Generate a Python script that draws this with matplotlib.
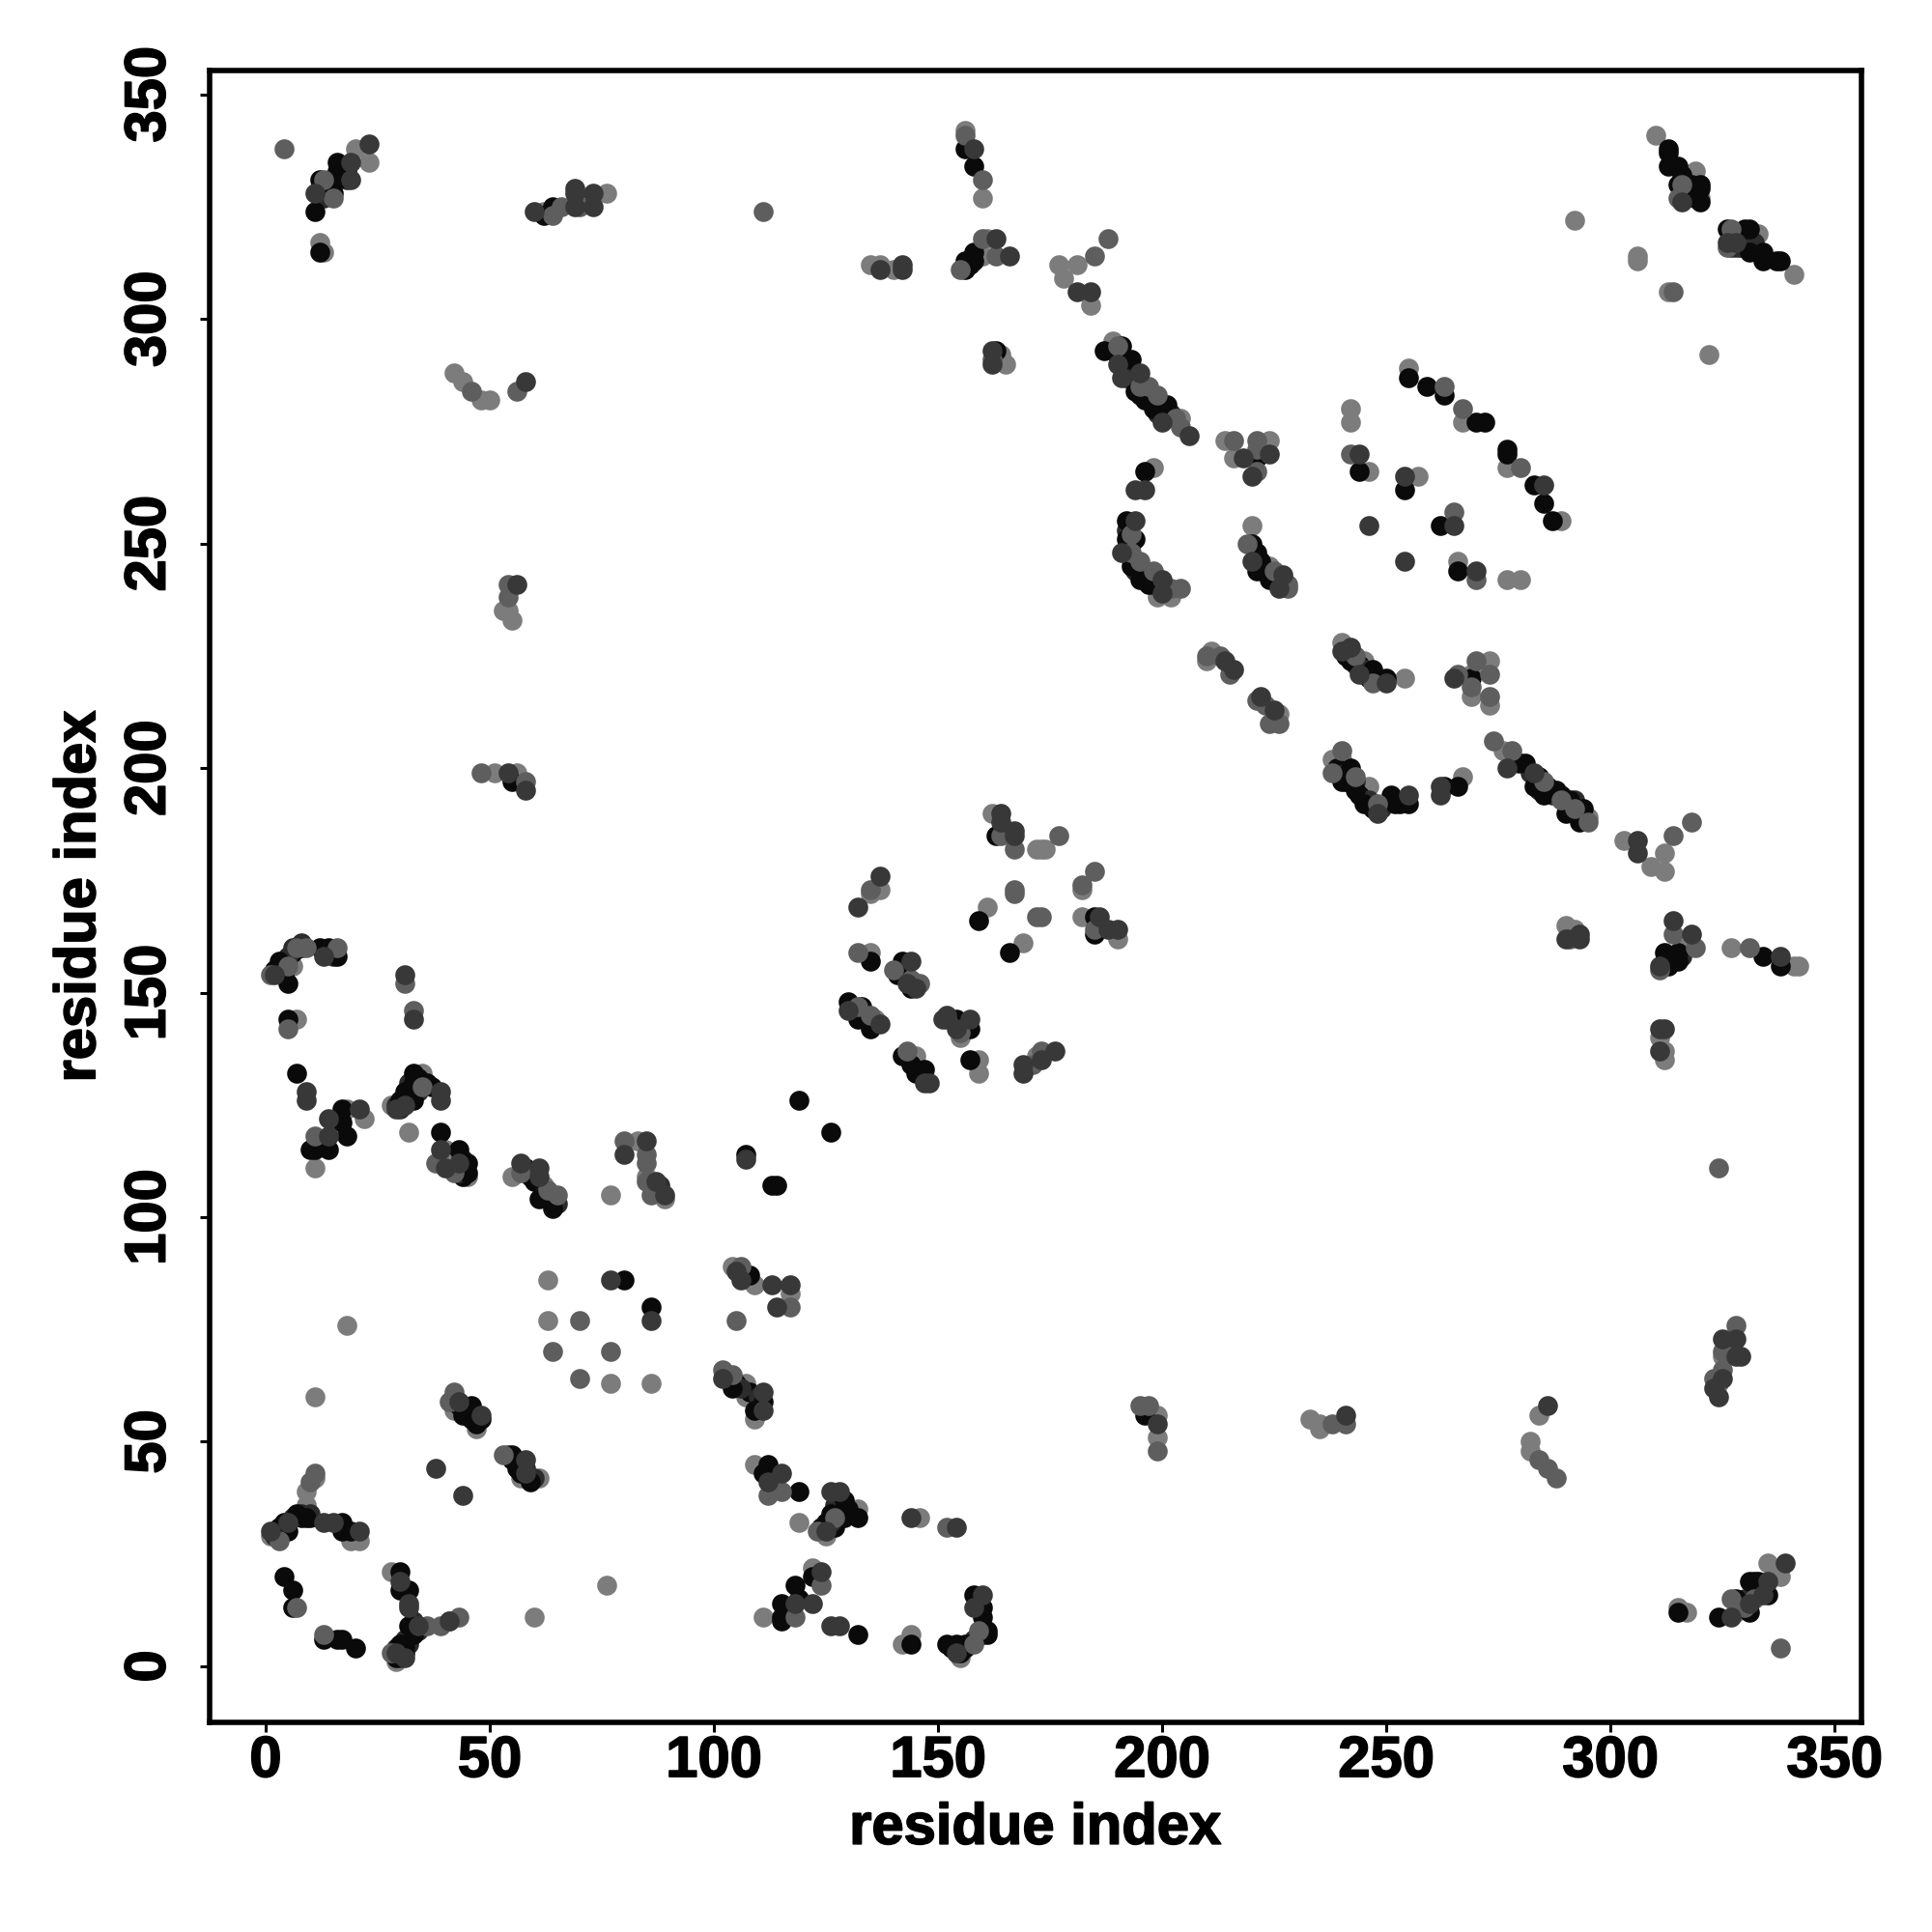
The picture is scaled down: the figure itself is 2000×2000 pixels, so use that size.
import matplotlib
matplotlib.use("Agg")
import matplotlib.pyplot as plt
import matplotlib.patheffects as pe
import numpy as np

# contacts (residue i, residue j), one list per grey level
light_pts = [(20,338),(23,335),(14,331),(12,328),(12,317),(13,315),(62,324),(76,328),(156,342),(160,327),(161,318),(160,314),
    (135,312),(137,312),(140,311),(164,292),(165,290),(42,288),(44,286),(48,282),(50,282),(53,235),(54,235),(55,233),(51,199),(56,199),
    (162,190),(173,182),(137,173),(135,172),(161,169),(169,161),(135,159),(145,136),(136,144),(155,140),(159,135),(159,132),(172,136),(173,136),
    (7,144),(35,132),(28,125),(32,119),(18,124),(22,122),(11,111),(40,115),(45,109),(55,109),(62,107),(83,117),(85,109),(89,104),(77,105),
    (63,86),(109,85),(117,83),(63,77),(77,63),(86,63),(104,89),(107,63),(107,60),(109,55),(11,60),(18,76),(42,57),(47,53),(57,42),(61,42),
    (109,45),(132,35),(125,29),(119,32),(146,33),(11,42),(9,39),(9,36),(1,29),(19,28),(21,28),(28,21),(29,1),(60,11),(76,18),(122,22),(111,11),
    (142,5),(144,7),(155,2),(155,3),(6,156),(172,182),(174,182),(182,173),(182,167),
    (184,303),(177,312),(181,312),(178,309),(189,295),(204,278),(310,341),(319,333),(320,327),(292,322),(306,314),(306,313),(313,306),(322,292),
    (333,319),(331,316),(341,310),(255,289),(267,277),(277,267),(289,255),(242,280),(242,277),(246,266),(257,265),(266,246),(277,242),(280,242),
    (198,267),(199,238),(202,238),(220,254),(224,245),(214,273),(224,273),(216,269),(211,226),(210,224),(226,212),(240,228),(238,202),(240,202),
    (245,224),(254,220),(273,224),(269,221),(269,216),(273,214),(276,204),(279,201),(246,196),(267,198),(295,189),(309,178),(312,181),(312,177),(303,184),
    (190,162),(290,165),(292,164),(317,160),(327,160),(341,156),(342,156),(311,140),(312,137),(312,135),(325,69),(324,63),(199,56),(199,51),
    (233,55),(235,54),(235,53),(284,56),(282,50),(282,48),(315,13),(317,12),(328,12),(338,20),(335,23)]
mid_pts = [(4,338),(13,331),(15,327),(64,323),(66,325),(70,325),(111,324),(156,341),(160,331),(160,318),(163,314),(155,311),(162,291),
    (46,284),(56,284),(54,241),(54,238),(48,199),(58,197),(164,185),(167,182),(167,173),(135,173),(167,172),(172,167),(132,159),(140,155),
    (144,153),(146,152),(132,147),(135,145),(152,144),(155,141),(143,137),(171,134),(5,156),(1,154),(7,160),(9,160),(16,160),(5,142),(31,152),(33,146),
    (35,129),(11,118),(38,112),(42,110),(57,110),(63,106),(65,105),(80,117),(85,114),(85,112),(85,108),(86,105),(106,89),(105,77),(117,80),
    (70,77),(64,70),(77,70),(70,64),(102,66),(104,65),(42,61),(41,59),(53,47),(115,39),(112,38),(127,33),(123,30),(11,43),(10,41),(3,28),
    (36,9),(39,9),(41,10),(43,11),(28,3),(124,18),(13,7),(7,13),(158,5),(159,8),(118,11),(152,31),(177,185),(185,177),(182,174),
    (188,318),(185,314),(190,294),(195,285),(197,285),(199,283),(203,278),(204,276),(316,330),(315,327),(314,306),(327,320),(326,316),
    (263,285),(267,280),(280,267),(242,270),(265,257),(270,242),(193,252),(193,248),(195,246),(198,244),(202,240),(204,240),(219,250),(225,244),(228,241),(228,240),
    (216,273),(221,273),(221,271),(221,266),(210,225),(213,225),(215,221),(221,215),(223,214),(224,210),(226,210),(243,225),(247,219),
    (266,221),(270,224),(273,221),(269,218),(273,216),(274,206),(278,204),(289,193),(292,191),(285,197),(295,188),(240,204),(238,199),(243,198),(248,192),
    (318,188),(314,185),(173,167),(173,137),(185,164),(291,162),(314,163),(319,160),(331,160),(311,155),(324,111),(328,76),(325,70),(325,66),(323,64),
    (195,58),(197,58),(199,48),(238,54),(241,54),(284,46),(286,44),(288,42),(327,15),(332,15),(330,13),(338,4)]
dark_pts = [(23,339),(19,335),(19,331),(11,328),(60,324),(69,329),(69,328),(69,325),(73,328),(73,325),(158,338),(166,314),(163,318),
    (142,312),(142,311),(137,311),(162,293),(162,290),(58,286),(56,241),(54,199),(58,195),(164,190),(164,188),(167,186),(167,185),(137,176),(132,169),
    (144,157),(143,152),(145,151),(130,146),(137,143),(152,145),(151,144),(157,144),(154,142),(147,130),(148,130),(169,134),(169,132),
    (2,154),(13,158),(31,154),(33,144),(9,128),(9,126),(39,128),(39,126),(29,124),(31,125),(21,124),(14,122),(14,118),(39,115),(43,112),(40,111),
    (57,112),(61,111),(61,109),(85,117),(80,114),(87,108),(89,105),(107,113),(77,86),(86,77),(105,88),(106,86),(113,85),(117,85),(114,80),
    (102,64),(111,61),(111,57),(43,59),(48,56),(58,46),(58,43),(38,44),(44,38),(115,43),(112,41),(126,39),(128,39),(125,30),(144,33),(154,31),
    (5,32),(1,30),(13,32),(15,32),(21,30),(30,19),(32,14),(32,13),(34,9),(29,3),(31,2),(41,10),(124,21),(122,14),(118,14),(126,9),(128,9),(154,3),(160,16),(158,13),
    (181,306),(184,306),(190,290),(191,287),(195,288),(200,277),(206,274),(316,326),(326,317),(328,317),(285,263),(244,270),(254,265),(246,254),(265,254),(254,246),(270,244),
    (196,262),(194,262),(194,255),(191,248),(200,242),(200,239),(220,246),(227,243),(226,240),(224,270),(218,269),(220,265),(214,224),(216,222),(222,216),(225,213),
    (242,227),(240,226),(244,221),(250,219),(265,220),(277,200),(283,199),(248,190),(255,194),(262,196),(262,194),(306,184),(306,181),
    (186,167),(188,164),(190,164),(176,137),(173,135),(293,163),(290,162),(293,162),(314,166),(318,163),(338,158),(311,156),(311,142),(312,142),(311,137),
    (325,73),(328,73),(328,69),(329,69),(325,64),(323,62),(324,60),(199,54),(241,56),(286,58),(331,14),(335,19),(334,16),(327,11),(339,23)]
black_pts = [(16,335),(16,333),(18,333),(16,331),(12,331),(15,328),(11,324),(12,315),(62,323),(64,325),(156,338),(158,334),(158,315),(158,313),(156,313),(157,312),(156,311),
    (163,293),(55,197),(163,185),(159,166),(166,159),(135,157),(142,157),(141,154),(144,151),(130,148),(133,147),(132,144),(135,142),(154,144),(157,142),(142,136),
    (144,134),(147,133),(145,132),(157,135),(5,152),(4,154),(3,157),(7,160),(12,160),(16,158),(5,144),(7,132),(33,132),(33,130),(37,129),(31,128),(33,126),(30,126),(39,119),
    (17,124),(17,121),(18,118),(14,115),(11,115),(10,115),(43,115),(45,112),(45,110),(59,109),(61,104),(64,102),(107,114),(113,107),(114,107),(119,126),(126,119),
    (80,86),(86,80),(108,87),(104,62),(109,57),(111,59),(46,58),(44,56),(48,55),(46,55),(55,47),(55,46),(56,44),(59,41),
    (112,45),(111,43),(119,39),(129,37),(132,33),(129,33),(126,34),(124,31),(9,33),(7,34),(3,31),(5,30),(17,32),(17,30),(19,30),
    (4,20),(6,17),(6,13),(13,6),(16,6),(17,6),(20,4),(30,21),(30,17),(32,17),(32,9),(33,7),(30,5),(29,2),(31,4),
    (122,20),(118,18),(119,15),(115,14),(115,11),(115,10),(132,7),(144,5),(152,5),(156,4),(154,5),(160,7),(161,8),(158,16),(160,13),(160,11),(155,3),(156,5),
    (187,293),(191,294),(193,291),(194,284),(196,282),(201,281),(198,280),(200,280),(313,338),(313,337),(313,334),(315,334),(315,330),(320,330),(320,329),(317,327),(320,326),
    (326,320),(330,320),(331,320),(331,315),(334,315),(334,313),(337,313),(338,313),(255,287),(259,285),(263,283),(270,277),(272,277),(277,271),(277,270),(283,263),(285,259),(287,255),
    (244,266),(254,262),(262,254),(266,244),(196,266),(192,255),(192,251),(194,251),(193,245),(195,242),(197,241),(220,250),(222,246),(221,244),(224,242),(221,269),
    (242,224),(247,222),(250,220),(269,220),(281,201),(283,196),(285,194),(288,195),(291,193),(290,190),(294,191),(293,188),(242,200),(240,197),(243,195),(245,192),
    (251,194),(252,192),(255,192),(253,192),(263,196),(266,196),(185,167),(185,163),(315,159),(312,159),(315,157),(312,157),(313,156),(334,158),(338,156),
    (196,56),(315,12),(324,11),(328,15),(331,12),(331,19),(332,19),(335,16)]
# points hidden inside the dense blobs, only the blob outline can be read
blob_black = [(13,329),(17,334),(2,155),(4,156),(6,159),(8,160),(14,160),(32,127),(34,131),(36,130),(2,30),(4,32),(8,33),(10,33),
    (30,3),(31,3),(32,6),(33,8),(43,58),(45,57),(47,54),(56,46),(57,43),(59,42),(105,63),(108,61),(110,58),(125,32),(127,31),(130,35),
    (153,4),(157,5),(159,7),(161,7),(189,293),(191,291),(192,287),(195,283),(198,282),(201,279),(316,332),(318,330),(316,328),
    (329,319),(329,316),(333,315),(280,201),(284,198),(286,196),(289,194),(292,190),(193,250),(193,247),(196,243),(199,241),(221,248),(225,243),
    (241,225),(244,223),(246,220),(239,200),(241,197),(244,194),(247,191),(44,112),(44,109),(58,111),(60,108),(313,158),(314,157),(329,13),(333,17),(333,19)]
blob_dark = [(14,330),(18,331),(12,329),(13,327),(3,155),(5,158),(6,160),(8,161),(15,158),(34,128),(32,130),(29,125),(30,124),(2,29),(4,30),(6,33),(8,34),(10,34),
    (29,4),(30,2),(32,5),(31,6),(34,8),(33,10),(42,59),(44,58),(46,57),(47,56),(45,56),(57,45),(58,44),(60,42),(54,47),(103,65),(106,62),(110,60),(126,32),(128,34),(127,36),
    (155,4),(158,6),(160,8),(190,292),(192,289),(193,287),(194,288),(197,283),(199,279),(202,279),(317,329),(318,328),(319,327),(327,316),(328,316),(332,317),
    (282,199),(284,195),(287,194),(290,192),(293,190),(292,193),(192,253),(194,244),(198,241),(201,240),(200,240),(223,244),(226,242),(227,241),
    (243,223),(245,222),(248,220),(241,199),(243,197),(246,193),(249,191),(43,110),(44,113),(60,110),(62,105),(63,104),(65,103),(86,107),(87,106),(88,106),(88,107),(314,158),(316,158),(330,15),(334,18),(329,14)]

ticks = [0, 50, 100, 150, 200, 250, 300, 350]

plt.rcParams['font.family'] = ['Liberation Sans', 'DejaVu Sans']
plt.rcParams['font.weight'] = 'bold'

fig = plt.figure(figsize=(20, 20), dpi=100)
ax = fig.add_axes([216.7/2000, 1-1783/2000, (1927-216.7)/2000, (1783-72.7)/2000])

# light first, the black ones do not sit on top of everything in the original
layers = [(light_pts, '#7c7c7c'), (blob_black, '#0a0a0a'), (blob_dark, '#2c2c2c'), (black_pts, '#0a0a0a'),
          (mid_pts, '#5e5e5e'), (dark_pts, '#383838')]
for pts, col in layers:
    arr = np.array(pts)
    ax.scatter(arr[:, 0], arr[:, 1], s=220, c=col, linewidths=0, zorder=3)

ax.set_xlim(-12.56, 356)
ax.set_ylim(-12.5, 355.4)
ax.set_xticks(ticks)
ax.set_yticks(ticks)
ax.set_xticklabels(ticks, fontsize=43)
ax.set_yticklabels(ticks, fontsize=43, rotation=90, va='center')
ax.tick_params(axis='x', length=7, width=2.2, pad=2.5)
ax.tick_params(axis='y', length=7, width=2.2, pad=17.5)
for s in ax.spines.values():
    s.set_linewidth(4)

ax.set_xlabel('residue index', fontsize=43, fontweight='bold', labelpad=10.5)
ax.set_ylabel('residue index', fontsize=43, fontweight='bold', labelpad=12.5)

# the original lettering is heavier than plain bold
heavy = [pe.withStroke(linewidth=1.2, foreground='black')]
for t in ax.get_xticklabels() + ax.get_yticklabels() + [ax.xaxis.label, ax.yaxis.label]:
    t.set_path_effects(heavy)

plt.savefig('out.png', dpi=100)
plt.close()
